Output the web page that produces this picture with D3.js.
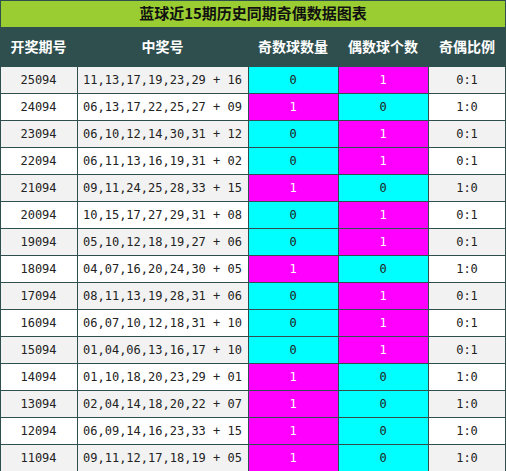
<!DOCTYPE html><html><head><meta charset="utf-8"><script src="https://cdn.jsdelivr.net/npm/d3@7"></script>
<style>body{margin:0;background:#fff}</style></head><body><svg id="c" width="506" height="471"></svg><script>
const periods=["25094","24094","23094","22094","21094","20094","19094","18094","17094","16094","15094","14094","13094","12094","11094"];
const numbers=["11,13,17,19,23,29 + 16","06,13,17,22,25,27 + 09","06,10,12,14,30,31 + 12","06,11,13,16,19,31 + 02","09,11,24,25,28,33 + 15","10,15,17,27,29,31 + 08","05,10,12,18,19,27 + 06","04,07,16,20,24,30 + 05","08,11,13,19,28,31 + 06","06,07,10,12,18,31 + 10","01,04,06,13,16,17 + 10","01,10,18,20,23,29 + 01","02,04,14,18,20,22 + 07","06,09,14,16,23,33 + 15","09,11,12,17,18,19 + 05"];
const oddCount=[0,1,0,0,1,0,0,1,0,0,0,1,1,1,1];
const evenCount=oddCount.map(v=>1-v);
const headers=["开奖期号","中奖号","奇数球数量","偶数球个数","奇偶比例"];
const title="蓝球近15期历史同期奇偶数据图表";
const svg=d3.select("#c");
const colX=[0,77,248,338,428,506];
const cf="'Noto Sans CJK SC',sans-serif", mf="'DejaVu Sans Mono',monospace";
svg.append("rect").attr("width",506).attr("height",471).attr("fill","#2f4f4f");
svg.append("rect").attr("x",1).attr("y",1).attr("width",504).attr("height",26).attr("fill","#9acd32");
svg.append("text").attr("x",253).attr("y",19).attr("text-anchor","middle").attr("font-family",cf).attr("font-weight","bold").attr("font-size",15).attr("fill","#111").text(title);
const y=d3.scaleBand().domain(d3.range(15)).range([66,471]);
headers.forEach((h,i)=>{
 svg.append("rect").attr("x",colX[i]+(i?1:1)).attr("y",28).attr("width",colX[i+1]-colX[i]-1-(i==4?1:0)).attr("height",37).attr("fill","#2f4f4f");
 svg.append("text").attr("x",(colX[i]+colX[i+1])/2).attr("y",52).attr("text-anchor","middle").attr("font-family",cf).attr("font-weight","bold").attr("font-size",14).attr("fill","#fff").text(h);
});
periods.forEach((p,r)=>{
 const vals=[p,numbers[r],oddCount[r],evenCount[r],oddCount[r]+":"+evenCount[r]];
 const bg=r%2?"#ffffff":"#f2f2f2";
 vals.forEach((v,i)=>{
  let fill=bg, tc="#222";
  if(i==2||i==3){fill=v==1?"#ff00ff":"#00ffff"; tc=v==1?"#fff":"#222";}
  svg.append("rect").attr("x",colX[i]+1).attr("y",y(r)+1).attr("width",colX[i+1]-colX[i]-1-(i==4?1:0)).attr("height",y.bandwidth()-1).attr("fill",fill);
  svg.append("text").attr("x",(colX[i]+colX[i+1])/2).attr("y",y(r)+y.bandwidth()/2+4.5).attr("text-anchor","middle").attr("font-family",mf).attr("font-size",12).attr("fill",tc).text(v);
 });
});
</script></body></html>
